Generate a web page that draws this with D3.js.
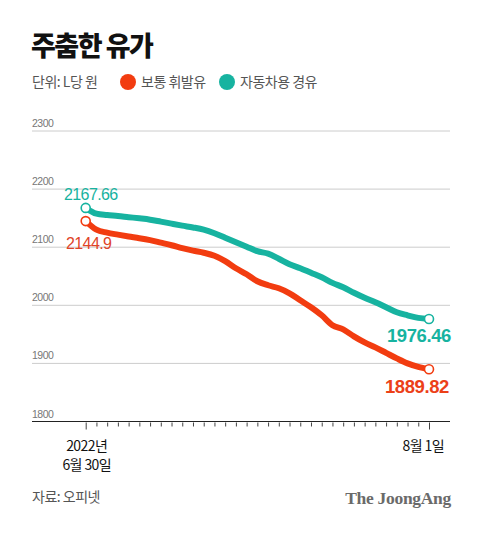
<!DOCTYPE html>
<html><head><meta charset="utf-8">
<script src="https://cdn.jsdelivr.net/npm/d3@7"></script>
<style>
body{margin:0;background:#fff;}
svg{display:block;font-family:"Noto Sans CJK KR","Noto Sans",sans-serif;}
</style></head>
<body><svg id="c" width="480" height="534"></svg>
<script>
const title = "주춤한 유가";
const unitLabel = "단위: L당 원";
const seriesNames = ["보통 휘발유", "자동차용 경유"];
const seriesColors = ["#f23c10", "#17b3a0"];
const startDate = "2022-06-30";
const gasoline = [2144.9,2130.2,2125,2121.6,2118.4,2115.5,2112.1,2107.8,2103.4,2098.3,2094,2090.5,2085.3,2075.9,2063.8,2053.4,2041.4,2034.5,2029.3,2020.7,2008.6,1996.6,1982.8,1965.8,1958.6,1946.6,1936.2,1927.6,1918.1,1908.6,1900,1894,1889.82];
const diesel = [2167.66,2157.8,2155.5,2153.8,2151.7,2149.7,2147.4,2144,2140.5,2137.1,2134,2130.2,2124.1,2116.4,2108.6,2100.9,2093.1,2088.8,2080.2,2070.7,2063.8,2056,2048.3,2038.6,2031,2021.6,2013,2005.2,1996.6,1988,1982.8,1978.4,1976.46];
const yTicks = [1800,1900,2000,2100,2200,2300];
const source = "자료: 오피넷";
const brand = "The JoongAng";

const svg = d3.select("#c");
const parse = d3.timeParse("%Y-%m-%d");
const d0 = parse(startDate);
const dates = gasoline.map((_, i) => d3.timeDay.offset(d0, i));
const x = d3.scaleTime().domain([dates[0], dates[dates.length-1]]).range([85.7, 429]);
const y = d3.scaleLinear().domain([1800, 2300]).range([421.5, 131]);
const gx0 = 32, gx1 = 450;

// title
svg.append("text").attr("x", 31).attr("y", 56).text(title)
  .attr("font-size", 27).attr("font-weight", 900).attr("fill", "#111").attr("letter-spacing", -1.5);
// unit + legend
svg.append("text").attr("x", 32).attr("y", 87).text(unitLabel).attr("font-size", 14).attr("fill", "#555").attr("letter-spacing", -0.5);
const lg = [{x:128, t:seriesNames[0], c:seriesColors[0]}, {x:227, t:seriesNames[1], c:seriesColors[1]}];
lg.forEach(l => {
  svg.append("circle").attr("cx", l.x).attr("cy", 82).attr("r", 8).attr("fill", l.c);
  svg.append("text").attr("x", l.x + 13).attr("y", 87).text(l.t).attr("font-size", 14).attr("fill", "#555").attr("letter-spacing", -0.5);
});

// gridlines
yTicks.forEach(t => {
  if (t !== 1800) svg.append("line").attr("x1", gx0).attr("x2", gx1).attr("y1", y(t)).attr("y2", y(t)).attr("stroke", "#ccc").attr("stroke-width", 1);
  svg.append("text").attr("x", 32).attr("y", y(t) - 4).text(t).attr("font-size", 10.5)
    .attr("font-family", "'Liberation Sans', Arial, sans-serif").attr("fill", "#777").attr("letter-spacing", -0.5);
});
// x axis
svg.append("line").attr("x1", gx0).attr("x2", gx1).attr("y1", y(1800)).attr("y2", y(1800)).attr("stroke", "#222").attr("stroke-width", 1.2);
const axisG = svg.append("g").attr("transform", `translate(0,${y(1800) + 1})`)
  .call(d3.axisBottom(x).ticks(d3.timeDay.every(1)).tickSize(4).tickFormat(""));
axisG.select(".domain").remove();
axisG.selectAll(".tick line").attr("stroke", "#444").attr("stroke-width", 1)
  .attr("y2", (d, i, n) => (i === 0 || i === n.length - 1) ? 7 : 4);

// x labels
const xl = svg.append("g").attr("font-size", 14).attr("fill", "#111").attr("letter-spacing", -0.6);
xl.append("text").attr("x", x(dates[0]) + 1).attr("y", 451).attr("text-anchor", "middle").text("2022년");
xl.append("text").attr("x", x(dates[0]) + 1).attr("y", 470).attr("text-anchor", "middle").text("6월 30일");
xl.append("text").attr("x", 444).attr("y", 451).attr("text-anchor", "end").text("8월 1일");

// lines
const line = d3.line().x((d, i) => x(dates[i])).y(d => y(d)).curve(d3.curveMonotoneX);
[[gasoline, seriesColors[0]], [diesel, seriesColors[1]]].forEach(([s, c]) => {
  svg.append("path").datum(s).attr("d", line).attr("fill", "none").attr("stroke", c)
    .attr("stroke-width", 6).attr("stroke-linejoin", "round").attr("stroke-linecap", "round");
});
[[gasoline, seriesColors[0]], [diesel, seriesColors[1]]].forEach(([s, c]) => {
  [0, s.length - 1].forEach(i => {
    svg.append("circle").attr("cx", x(dates[i])).attr("cy", y(s[i])).attr("r", 4.5)
      .attr("fill", "#fff").attr("stroke", c).attr("stroke-width", 1.6);
  });
});

// value labels
const nf = "'Liberation Sans', Arial, sans-serif";
svg.append("text").attr("x", 64).attr("y", 200).text(diesel[0]).attr("font-size", 16).attr("font-family", nf)
  .attr("fill", seriesColors[1]).attr("letter-spacing", -0.6);
svg.append("text").attr("x", 66).attr("y", 249).text(gasoline[0]).attr("font-size", 16).attr("font-family", nf)
  .attr("fill", "#e04428").attr("letter-spacing", -0.6);
svg.append("text").attr("x", 451).attr("y", 342).attr("text-anchor", "end").text(diesel[diesel.length-1])
  .attr("font-size", 18.5).attr("font-weight", "bold").attr("font-family", nf).attr("fill", seriesColors[1]).attr("letter-spacing", -0.4);
svg.append("text").attr("x", 449).attr("y", 392.5).attr("text-anchor", "end").text(gasoline[gasoline.length-1])
  .attr("font-size", 18.5).attr("font-weight", "bold").attr("font-family", nf).attr("fill", "#ec4018").attr("letter-spacing", -0.4);

// footer
svg.append("text").attr("x", 32).attr("y", 502).text(source).attr("font-size", 14).attr("fill", "#555").attr("letter-spacing", -0.5);
svg.append("text").attr("x", 451).attr("y", 504).attr("text-anchor", "end").text(brand)
  .attr("font-size", 17.5).attr("font-weight", "bold").attr("font-family", "'Liberation Serif','DejaVu Serif',serif")
  .attr("fill", "#6a6a6a").attr("letter-spacing", -0.3);
</script></body></html>
